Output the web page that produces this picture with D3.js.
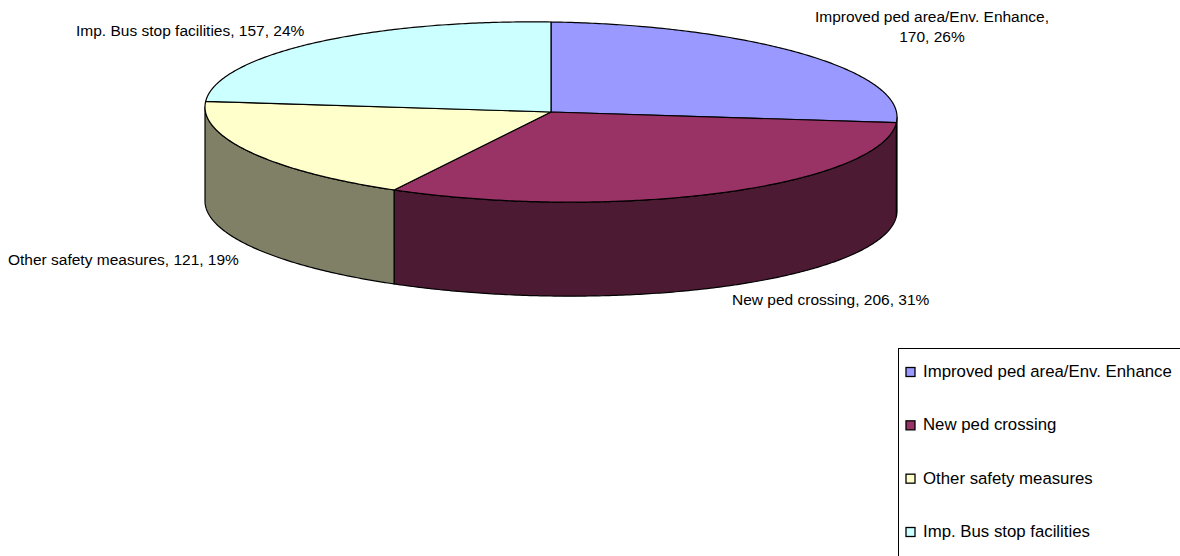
<!DOCTYPE html>
<html>
<head>
<meta charset="utf-8">
<script src="https://cdn.jsdelivr.net/npm/d3@7/dist/d3.min.js"></script>
<style>
  html, body { margin: 0; padding: 0; background: #fff; }
  svg { display: block; font-family: "Liberation Sans", Arial, sans-serif; }
</style>
</head>
<body>
<svg id="chart" width="1180" height="556"></svg>
<script>
// Scheme categories and counts
const categories = [
  "Improved ped area/Env. Enhance",
  "New ped crossing",
  "Other safety measures",
  "Imp. Bus stop facilities"
];
const values = [170, 206, 121, 157];
const percentLabels = ["26%", "31%", "19%", "24%"];
const topColors  = ["#9999FF", "#993366", "#FFFFCC", "#CCFFFF"];
const sideColors = ["#4D4D80", "#4D1A33", "#808066", "#668080"];

const svg = d3.select("#chart");

// 3D pie geometry
const cx = 551, cy = 112, rx = 346, ry = 90, depth = 94, skew = 0.0145;

function pt(a, dy) {
  return [cx + rx * Math.sin(a), cy - ry * Math.cos(a) + skew * rx * Math.sin(a) + dy];
}
function arcPts(a0, a1, dy) {
  const n = Math.max(2, Math.ceil(Math.abs(a1 - a0) / 0.01));
  return d3.range(n + 1).map(i => pt(a0 + (a1 - a0) * i / n, dy));
}

const pie = d3.pie().sort(null).value(d => d)(values);
const line = d3.line();

const g = svg.append("g");

// side walls: only the front half (PI/2 .. 3PI/2) is visible
pie.forEach((d, i) => {
  const a0 = Math.max(d.startAngle, Math.PI / 2);
  const a1 = Math.min(d.endAngle, 3 * Math.PI / 2);
  if (a1 <= a0) return;
  const pts = arcPts(a0, a1, 0).concat(arcPts(a1, a0, depth));
  g.append("path")
    .attr("d", line(pts) + "Z")
    .attr("fill", sideColors[i])
    .attr("stroke", "#000")
    .attr("stroke-width", 1.2)
    .attr("stroke-linejoin", "round");
});

// top faces
pie.forEach((d, i) => {
  const pts = [[cx, cy]].concat(arcPts(d.startAngle, d.endAngle, 0));
  g.append("path")
    .attr("d", line(pts) + "Z")
    .attr("fill", topColors[i])
    .attr("stroke", "#000")
    .attr("stroke-width", 1.2)
    .attr("stroke-linejoin", "round");
});

// data labels
const labelSize = 15.5;
const labels = svg.append("g")
  .attr("font-size", labelSize)
  .attr("fill", "#000");

labels.append("text")
  .attr("x", 932).attr("y", 22)
  .attr("text-anchor", "middle")
  .text(`${categories[0]},`);
labels.append("text")
  .attr("x", 932).attr("y", 42)
  .attr("text-anchor", "middle")
  .text(`${values[0]}, ${percentLabels[0]}`);

labels.append("text")
  .attr("x", 732).attr("y", 305)
  .text(`${categories[1]}, ${values[1]}, ${percentLabels[1]}`);

labels.append("text")
  .attr("x", 8).attr("y", 265)
  .text(`${categories[2]}, ${values[2]}, ${percentLabels[2]}`);

labels.append("text")
  .attr("x", 76).attr("y", 36)
  .text(`${categories[3]}, ${values[3]}, ${percentLabels[3]}`);

// legend
const legendSize = 16.8;
const legend = svg.append("g");
legend.append("rect")
  .attr("x", 898.5).attr("y", 348.5)
  .attr("width", 300).attr("height", 230)
  .attr("fill", "#fff")
  .attr("stroke", "#000")
  .attr("stroke-width", 1);

const ly = d3.scalePoint().domain(categories).range([377, 537]);
const items = legend.selectAll("g.item").data(categories).join("g")
  .attr("class", "item")
  .attr("transform", d => `translate(0,${ly(d)})`);
items.append("rect")
  .attr("x", 906).attr("y", -9.5)
  .attr("width", 9).attr("height", 9)
  .attr("fill", (d, i) => topColors[i])
  .attr("stroke", "#000")
  .attr("stroke-width", 1.3);
items.append("text")
  .attr("x", 923).attr("y", 0)
  .attr("font-size", legendSize)
  .text(d => d);
</script>
</body>
</html>
